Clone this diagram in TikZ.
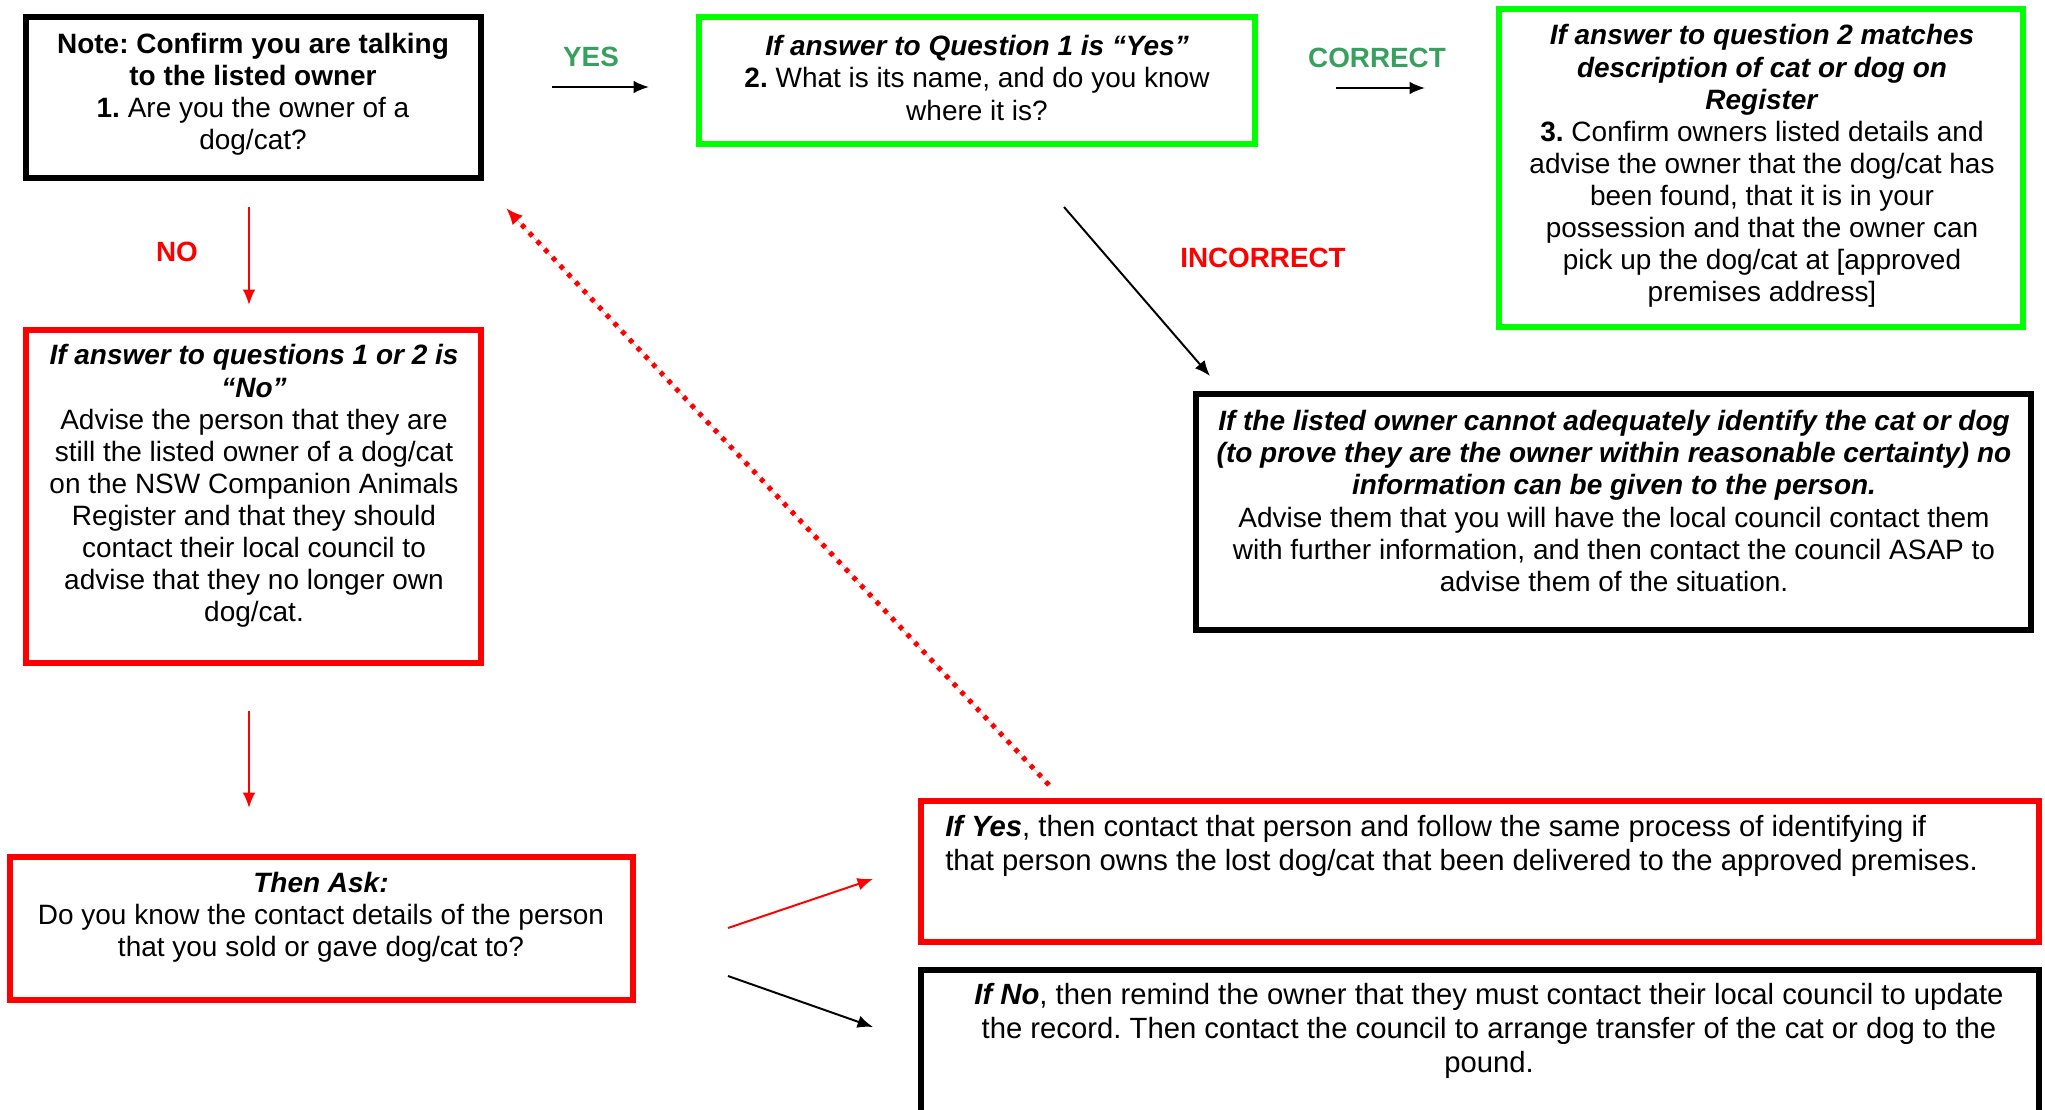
\documentclass[tikz,border=0pt]{standalone}
\usepackage{fontspec}
\setmainfont{Liberation Sans}
\usetikzlibrary{arrows.meta}
\frenchspacing
\definecolor{boxgreen}{RGB}{0,255,0}
\definecolor{boxred}{RGB}{255,0,0}
\definecolor{lblgreen}{RGB}{55,160,95}
\definecolor{lblred}{RGB}{255,0,0}
\tikzset{
  box/.style={draw, line width=4pt, rectangle, inner sep=0pt},
  blackbox/.style={box, draw=black},
  greenbox/.style={box, draw=boxgreen},
  redbox/.style={box, draw=boxred},
  bw/.style={minimum width={#1*0.025cm}},
  bh/.style={minimum height={#1*0.025cm}},
  txt/.style={align=center, inner sep=0pt, font=\fontsize{19.9}{22.8}\selectfont},
  bigtxt/.style={txt, font=\fontsize{20.8}{24}\selectfont},
  lbl/.style={inner sep=0pt, font=\fontsize{19.8}{22.8}\selectfont\bfseries},
  arr/.style={line width=1.4pt, -{Latex[length=11pt,width=9pt]}},
  redarr/.style={arr, draw=boxred, fill=boxred},
  blackarr/.style={arr, draw=black, fill=black},
  dotarr/.style={draw=boxred, fill=boxred, line width=3.5pt, dash pattern=on 3.3pt off 4.7pt, -{Latex[length=12pt,width=10pt]}}
}
\begin{document}
\begin{tikzpicture}[x=0.025cm, y=-0.025cm]
\useasboundingbox (0,0) rectangle (2045,1110);
\begin{scope}
\clip (0,0) rectangle (2045,1110);
% boxes
\node[blackbox, bw=455, bh=161] (b1) at (253.5,97.5) {};
\node[greenbox, bw=556, bh=127] (b2) at (977,80.5) {};
\node[greenbox, bw=524, bh=318] (b3) at (1761,168) {};
\node[blackbox, bw=835, bh=236] (b4) at (1613.5,512) {};
\node[redbox, bw=455, bh=333] (b5) at (253.5,496.5) {};
\node[redbox, bw=623, bh=143] (b6) at (321.5,928.5) {};
\node[redbox, bw=1118, bh=141] (b7) at (1480,871.5) {};
\node[blackbox, bw=1118, bh=170] (b8) at (1480,1055) {};
\end{scope}
% texts
\node[txt] (t1) at (253,94) {\textbf{Note: Confirm you are talking}\\\textbf{to the listed owner}\\\textbf{1.} Are you the owner of a\\dog/cat?};
\node[txt] (t2) at (977,78) {\textbf{\textit{If answer to Question 1 is “Yes”}}\\\textbf{2.} What is its name, and do you know\\where it is?};
\node[txt] (t3) at (1762,166) {\textbf{\textit{If answer to question 2 matches}}\\\textbf{\textit{description of cat or dog on}}\\\textbf{\textit{Register}}\\\textbf{3.} Confirm owners listed details and\\advise the owner that the dog/cat has\\been found, that it is in your\\possession and that the owner can\\pick up the dog/cat at [approved\\premises address]};
\node[txt] (t4) at (1614,501) {\textbf{\textit{If the listed owner cannot adequately identify the cat or dog}}\\\textbf{\textit{(to prove they are the owner within reasonable certainty) no}}\\\textbf{\textit{information can be given to the person.}}\\Advise them that you will have the local council contact them\\with further information, and then contact the council ASAP to\\advise them of the situation.};
\node[txt] (t5) at (254,486) {\textbf{\textit{If answer to questions 1 or 2 is}}\\\textbf{\textit{“No”}}\\Advise the person that they are\\still the listed owner of a dog/cat\\on the NSW Companion Animals\\Register and that they should\\contact their local council to\\advise that they no longer own\\dog/cat.};
\node[txt] (t6) at (321,917) {\textbf{\textit{Then Ask:}}\\Do you know the contact details of the person\\that you sold or gave dog/cat to?};
\node[bigtxt, align=left, anchor=west] (t7) at (945,846) {\textbf{\textit{If Yes}}, then contact that person and follow the same process of identifying if\\that person owns the lost dog/cat that been delivered to the approved premises.};
\node[bigtxt] (t8) at (1489,1031) {\textbf{\textit{If No}}, then remind the owner that they must contact their local council to update\\the record. Then contact the council to arrange transfer of the cat or dog to the\\pound.};
% labels
\node[lbl, text=lblgreen] (lyes) at (591,57) {YES};
\node[lbl, text=lblgreen] (lcorrect) at (1377,58) {CORRECT};
\node[lbl, text=lblred] (lno) at (177,252) {NO};
\node[lbl, text=lblred] (lincorrect) at (1263,258) {INCORRECT};
% connector endpoints
\coordinate (yesS) at (552,87);   \coordinate (yesE) at (649,87);
\coordinate (corS) at (1336,88);  \coordinate (corE) at (1425,88);
\coordinate (noS) at (249,207);   \coordinate (noE) at (249,305);
\coordinate (incS) at (1064,207); \coordinate (incE) at (1210,376);
\coordinate (dotS) at (1049,785); \coordinate (dotE) at (506,208);
\coordinate (downS) at (249,711); \coordinate (downE) at (249,808);
\coordinate (yesbS) at (728,928); \coordinate (yesbE) at (873,879);
\coordinate (nobS) at (728,976);  \coordinate (nobE) at (873,1027);
% connectors
\draw[blackarr] (yesS) -- (yesE);
\draw[blackarr] (corS) -- (corE);
\draw[redarr] (noS) -- (noE);
\draw[blackarr] (incS) -- (incE);
\draw[dotarr] (dotS) -- (dotE);
\draw[redarr] (downS) -- (downE);
\draw[redarr] (yesbS) -- (yesbE);
\draw[blackarr] (nobS) -- (nobE);
\end{tikzpicture}
\end{document}
